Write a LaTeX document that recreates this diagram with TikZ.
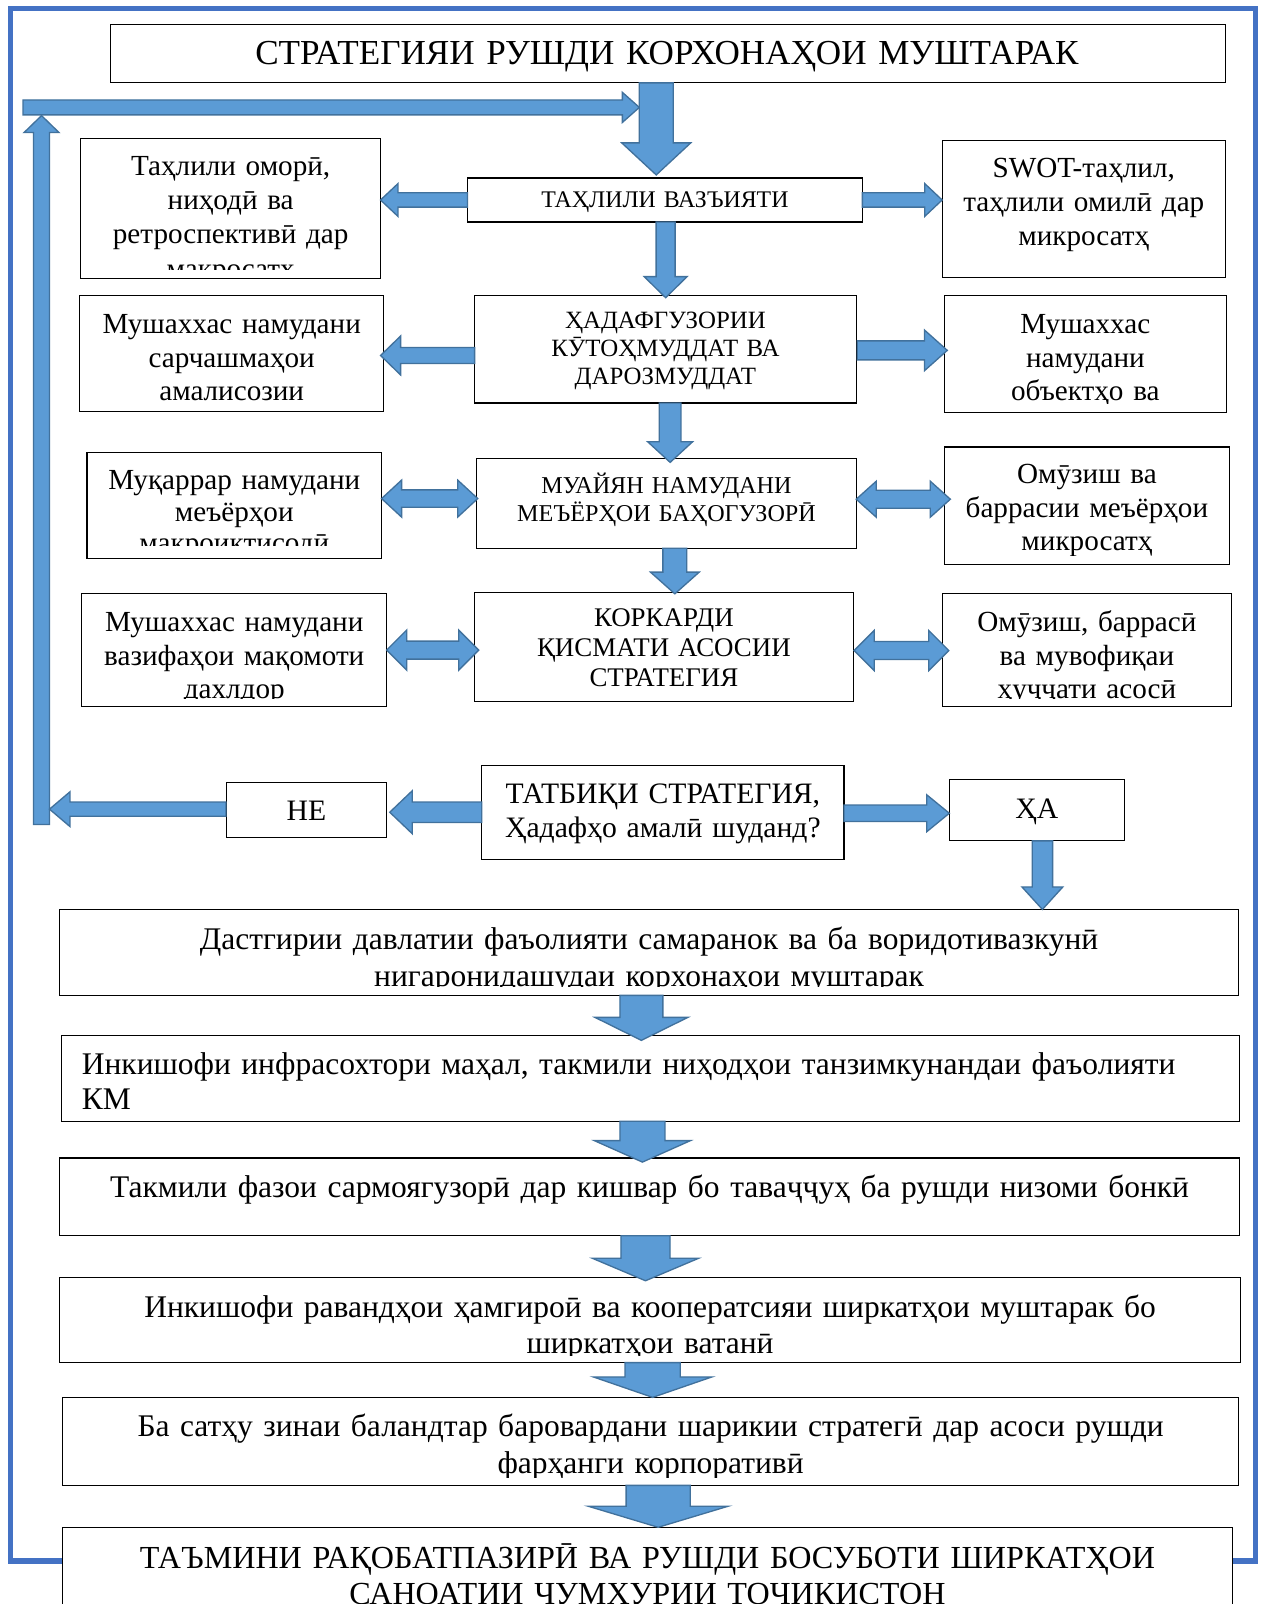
\documentclass[tikz,border=0pt]{standalone}
\usepackage{fontspec}
\setmainfont{Liberation Serif}
\usetikzlibrary{calc}
\definecolor{frameblue}{HTML}{4472C4}
\definecolor{arrfill}{HTML}{5B9BD5}
\definecolor{arrdraw}{HTML}{41719C}
\tikzset{
  box/.style={draw=black, line width=1.1pt, fill=white, inner sep=0pt, outer sep=0pt},
  fatarrow/.style={fill=arrfill, draw=arrdraw, line width=1.3pt, line join=miter},
  frameline/.style={draw=frameblue, line width=5pt},
  txt/.style={anchor=north, inner sep=0pt, outer sep=0pt, text width=1180pt, align=center},
  txtl/.style={anchor=north west, inner sep=0pt, outer sep=0pt, text width=1125pt, align=left},
}
% box: name, x1, y1, x2, y2
\newcommand\fbBox[5]{\node[box, anchor=north west, minimum width={(#4)-(#2)}, minimum height={(#5)-(#3)}] (#1) at (#2,#3) {};}
% text: [bottom inset], box, size, skip, x, baseline y, text
\newcommand\fbText[7][9]{%
  \begin{scope}
  \clip ([xshift=1pt,yshift=-1pt]#2.north west) rectangle ([xshift=-1pt,yshift=#1pt]#2.south east);
  \node[txt, font=\fontsize{#3}{#4}\selectfont] (#2-t) at ({#5},{#6-0.7*#4}) {\strut #7};
  \end{scope}}
\newcommand\fbTextL[7][9]{%
  \begin{scope}
  \clip ([xshift=1pt,yshift=-1pt]#2.north west) rectangle ([xshift=-1pt,yshift=#1pt]#2.south east);
  \node[txtl, font=\fontsize{#3}{#4}\selectfont] (#2-t) at ({#5},{#6-0.7*#4}) {\strut #7};
  \end{scope}}
% arrows: start, end, shaft half width, head half width, head length
\newcommand\fbHarrow[5]{%
  \path[fatarrow] let \p1=#1, \p2=#2, \n1={ifthenelse(\x2>\x1,1,-1)*#5} in
  (\x1,\y1-#3) -- (\x2-\n1,\y1-#3) -- (\x2-\n1,\y1-#4) -- (\x2,\y1) -- (\x2-\n1,\y1+#4) -- (\x2-\n1,\y1+#3) -- (\x1,\y1+#3) -- cycle;}
\newcommand\fbVarrow[5]{%
  \path[fatarrow] let \p1=#1, \p2=#2, \n1={ifthenelse(\y2>\y1,1,-1)*#5} in
  (\x1-#3,\y1) -- (\x1-#3,\y2-\n1) -- (\x1-#4,\y2-\n1) -- (\x1,\y2) -- (\x1+#4,\y2-\n1) -- (\x1+#3,\y2-\n1) -- (\x1+#3,\y1) -- cycle;}
\newcommand\fbDarrow[5]{%
  \path[fatarrow] let \p1=#1, \p2=#2, \n1={ifthenelse(\x2>\x1,1,-1)*#5} in
  (\x1,\y1) -- (\x1+\n1,\y1+#4) -- (\x1+\n1,\y1+#3) -- (\x2-\n1,\y1+#3) -- (\x2-\n1,\y1+#4) -- (\x2,\y1) -- (\x2-\n1,\y1-#4) -- (\x2-\n1,\y1-#3) -- (\x1+\n1,\y1-#3) -- (\x1+\n1,\y1-#4) -- cycle;}
\begin{document}
\begin{tikzpicture}[x=1pt, y=-1pt]
\useasboundingbox (0,0) rectangle (1236,1568);
\fill[white] (0,0) rectangle (1236,1568);
% outer frame
\draw[frameline] (10,8) rectangle (1227,1526);
% boxes
\fbBox{title}{108}{24}{1198}{81}
\fbBox{tah}{457}{174}{843}{217}
\fbBox{l1}{79}{135}{372}{272}
\fbBox{r1}{921}{137}{1198}{271}
\fbBox{had}{464}{289}{837}{394}
\fbBox{l2}{78}{289}{375}{402}
\fbBox{r2}{923}{289}{1199}{403}
\fbBox{mua}{466}{448}{837}{536}
\fbBox{l3}{85}{442}{373}{546}
\fbBox{r3}{923}{437}{1202}{552}
\fbBox{kor}{464}{579}{834}{686}
\fbBox{l4}{80}{580}{378}{691}
\fbBox{r4}{921}{580}{1204}{691}
\fbBox{tat}{471}{748}{825}{840}
\fbBox{ne}{221}{765}{378}{819}
\fbBox{ha}{928}{762}{1099}{822}
\fbBox{b1}{58}{889}{1211}{973}
\fbBox{b2}{60}{1012}{1212}{1096}
\fbBox{b3}{58}{1132}{1212}{1208}
\fbBox{b4}{58}{1249}{1213}{1332}
\fbBox{b5}{61}{1366}{1211}{1452}
\fbBox{b6}{61}{1493}{1205}{1600}
% texts
\fbText{title}{34.3}{40}{652}{63.5}{СТРАТЕГИЯИ РУШДИ КОРХОНАҲОИ МУШТАРАК}
\fbText{tah}{23.3}{27}{650}{202.8}{ТАҲЛИЛИ ВАЗЪИЯТИ}
\fbText{l1}{28.5}{33.5}{225.5}{171.5}{Таҳлили оморӣ,\\ ниҳодӣ ва\\ ретроспективӣ дар\\ макросатҳ}
\fbText{r1}{28.5}{33.5}{1059.5}{173.3}{SWOT-таҳлил,\\ таҳлили омилӣ дар\\ микросатҳ}
\fbText{had}{24.3}{27.2}{650.5}{321}{ҲАДАФГУЗОРИИ\\ КӮТОҲМУДДАТ ВА\\ ДАРОЗМУДДАТ}
\fbText{l2}{28.5}{32.8}{226.5}{326}{Мушаххас намудани\\ сарчашмаҳои\\ амалисозии}
\fbText{r2}{28.5}{32.8}{1061}{326}{Мушаххас\\ намудани\\ объектҳо ва}
\fbText{mua}{23.6}{26.8}{651.5}{480.8}{МУАЙЯН НАМУДАНИ\\ МЕЪЁРҲОИ БАҲОГУЗОРӢ}
\fbText[13]{l3}{28.5}{31}{229}{478.5}{Муқаррар намудани\\ меъёрҳои\\ макроиқтисодӣ}
\fbText{r3}{28.5}{33}{1062.5}{472.6}{Омӯзиш ва\\ баррасии меъёрҳои\\ микросатҳ}
\fbText{kor}{26.3}{29.3}{649}{612.8}{КОРКАРДИ\\ ҚИСМАТИ АСОСИИ\\ СТРАТЕГИЯ}
\fbText[8]{l4}{28.5}{32.7}{229}{617.7}{Мушаххас намудани\\ вазифаҳои мақомоти\\ дахлдор}
\fbText[8]{r4}{28.5}{32.7}{1062.5}{617.7}{Омӯзиш, баррасӣ\\ ва мувофиқаи\\ ҳуҷҷати асосӣ}
\fbText{tat}{29}{34}{648}{785}{ТАТБИҚИ СТРАТЕГИЯ,\\ Ҳадафҳо амалӣ шуданд?}
\fbText{ne}{29}{34}{299.5}{802}{НЕ}
\fbText{ha}{29}{34}{1013.5}{800}{ҲА}
\fbText[9]{b1}{30.8}{35.5}{634.5}{928.5}{Дастгирии давлатии фаъолияти самаранок ва ба воридотивазкунӣ\\ нигаронидашудаи корхонаҳои муштарак}
\fbTextL{b2}{30.8}{34}{80}{1050.5}{Инкишофи инфрасохтори маҳал, такмили ниҳодҳои танзимкунандаи фаъолияти\\ КМ}
\fbText{b3}{30.8}{35.5}{635}{1171}{Такмили фазои сармоягузорӣ дар кишвар бо таваҷҷуҳ ба рушди низоми бонкӣ}
\fbText[7]{b4}{30.8}{36}{635.5}{1287.5}{Инкишофи равандҳои ҳамгироӣ ва кооператсияи ширкатҳои муштарак бо\\ ширкатҳои ватанӣ}
\fbText[8]{b5}{30.8}{36}{636}{1404.5}{Ба сатҳу зинаи баландтар баровардани шарикии стратегӣ дар асоси рушди\\ фарҳанги корпоративӣ}
\fbText[2]{b6}{31.4}{35}{633}{1533}{ТАЪМИНИ РАҚОБАТПАЗИРӢ ВА РУШДИ БОСУБОТИ ШИРКАТҲОИ\\ САНОАТИИ ҶУМҲУРИИ ТОҶИКИСТОН}
% loop coordinates
\coordinate (loopTL) at (22.5,105);
\coordinate (bigL) at (625,105);
\coordinate (loopBL) at (40.6,806);
\coordinate (loopT) at (40.6,113);
\coordinate (loopR) at (48.4,791);
\coordinate (bigx) at (641.5,0);
% arrows
\fbHarrow{(loopTL)}{(bigL)}{7.3}{14.7}{16.6}
\fbVarrow{(title.south -| bigx)}{($(tah.north -| bigx)+(0,-3)$)}{16.6}{33.7}{31.3}
\fbVarrow{(loopBL)}{(loopT)}{7.8}{17.1}{16.6}
\fbHarrow{(tah.west)}{(l1.east)}{7}{16}{17}
\fbHarrow{(tah.east)}{(r1.west)}{7}{16}{17}
\fbVarrow{($(tah.south)+(0.7,0)$)}{($(had.north)+(0,2)$)}{9.3}{21}{20.6}
\fbHarrow{($(had.west)+(0,6)$)}{($(l2.east)+(-3,0)$)}{7.8}{19}{19.6}
\fbHarrow{($(had.east)+(1,1)$)}{($(r2.west)+(3,0)$)}{9.3}{19.8}{22.2}
\fbVarrow{($(had.south)+(4.6,0)$)}{($(mua.north)+(0,4)$)}{10.6}{22}{20.2}
\fbDarrow{($(mua.west)+(1,-4.6)$)}{(l3.east)}{8.5}{18.1}{19.6}
\fbDarrow{($(mua.east)+(0,-4)$)}{($(r3.west)+(6,0)$)}{8.8}{17.6}{19.6}
\fbVarrow{($(mua.south)+(8.2,0)$)}{($(kor.north)+(0,1.5)$)}{11.7}{23.8}{21.2}
\fbDarrow{($(kor.west)+(4,3)$)}{(l4.east)}{8.8}{19.6}{19.6}
\fbDarrow{($(kor.east)+(1,3.4)$)}{($(r4.west)+(6.5,0)$)}{8.8}{19.6}{19.6}
\fbHarrow{(tat.west)}{($(ne.east)+(3,0)$)}{10}{21}{22}
\fbHarrow{($(ne.west)+(0,-1)$)}{(loopR)}{7}{17}{20}
\fbHarrow{($(tat.east)+(0,1)$)}{(ha.west)}{8}{18}{22}
\fbVarrow{($(ha.south)+(5.5,0)$)}{(b1.north)}{10}{20}{22}
\fbVarrow{($(b1.south)+(-7.5,0)$)}{($(b2.north)+(0,5)$)}{21}{45.5}{22.5}
\fbVarrow{($(b2.south)+(-8,0)$)}{($(b3.north)+(0,4)$)}{22}{47}{21}
\fbVarrow{($(b3.south)+(-4,0)$)}{($(b4.north)+(0,3)$)}{24}{52}{22}
\fbVarrow{($(b4.south)+(2.5,0)$)}{(b5.north)}{27}{58}{20}
\fbVarrow{($(b5.south)+(7.4,0)$)}{(b6.north)}{31.3}{68.4}{20.6}
\end{tikzpicture}
\end{document}
